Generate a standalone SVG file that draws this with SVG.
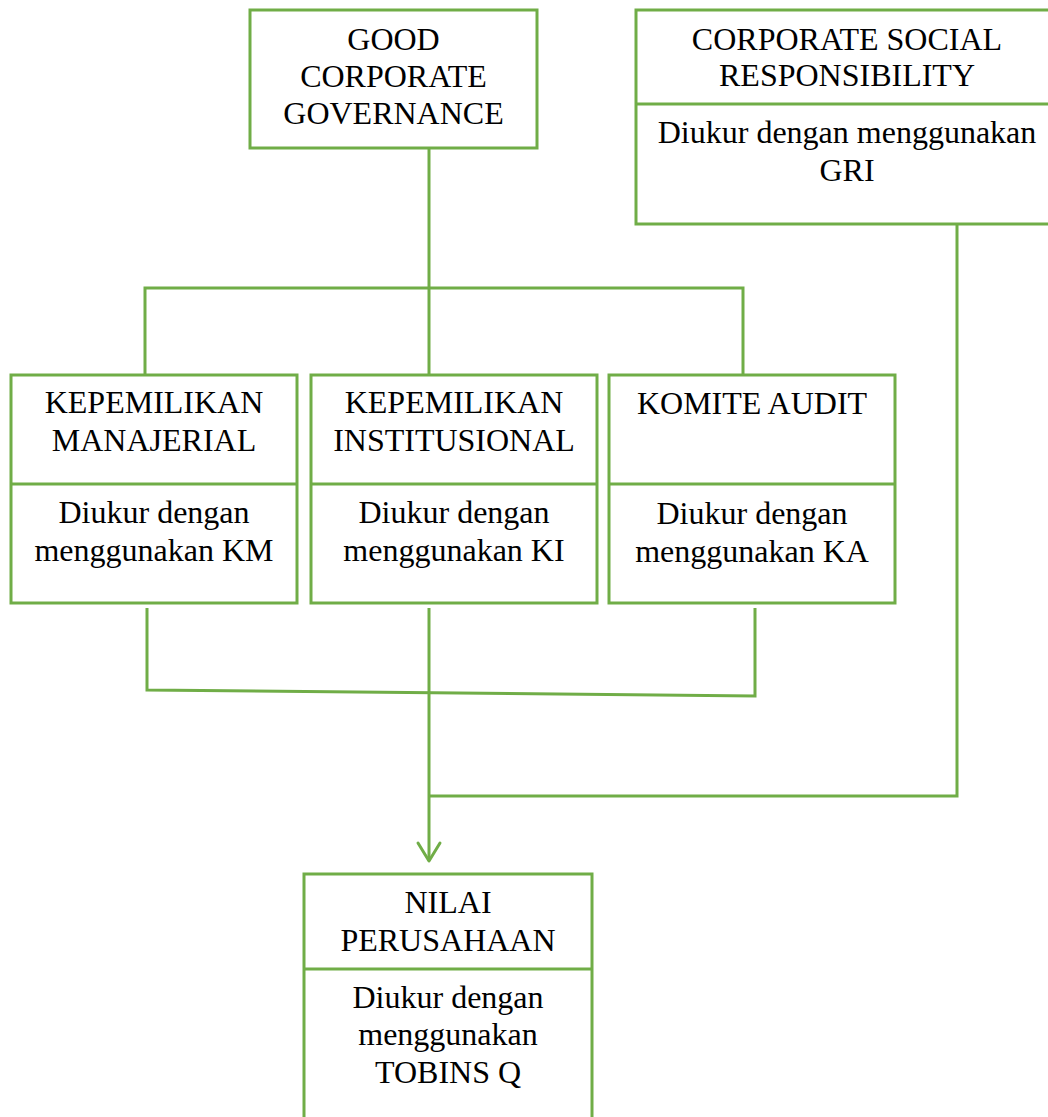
<svg xmlns="http://www.w3.org/2000/svg" width="1048" height="1117" viewBox="0 0 1048 1117">
<style>
.box{fill:#fff;stroke:#70AD47;stroke-width:3}
.ln{fill:none;stroke:#70AD47;stroke-width:3}
text{font-family:"Liberation Serif","Times New Roman",serif;font-size:32px;fill:#000;text-anchor:middle}
</style>
<rect width="1048" height="1117" fill="#fff"/>
<g id="connectors">
<polyline class="ln" points="429,148 429,375"/>
<polyline class="ln" points="145,375 145,288 743,288 743,375"/>
<polyline class="ln" points="147,608 147,690 755,696 755,608"/>
<polyline class="ln" points="429,608 429,861"/>
<polyline class="ln" points="957,224 957,796 429,796"/>
<polyline class="ln" points="418,843 429,861 440,843" stroke-linecap="round" stroke-linejoin="round" stroke-width="3.5"/>
</g>
<g id="gcg">
<rect class="box" x="250" y="10" width="287" height="138"/>
<text x="393.5" y="50">GOOD</text>
<text x="393.5" y="87">CORPORATE</text>
<text x="393.5" y="124">GOVERNANCE</text>
</g>
<g id="csr">
<rect class="box" x="636" y="10" width="430" height="214"/>
<line class="ln" x1="636" y1="104" x2="1066" y2="104"/>
<text x="847" y="50">CORPORATE SOCIAL</text>
<text x="847" y="86">RESPONSIBILITY</text>
<text x="847" y="143">Diukur dengan menggunakan</text>
<text x="847" y="181">GRI</text>
</g>
<g id="km">
<rect class="box" x="11" y="375" width="286" height="228"/>
<line class="ln" x1="11" y1="484" x2="297" y2="484"/>
<text x="154" y="413">KEPEMILIKAN</text>
<text x="154" y="451">MANAJERIAL</text>
<text x="154" y="523">Diukur dengan</text>
<text x="154" y="561">menggunakan KM</text>
</g>
<g id="ki">
<rect class="box" x="311" y="375" width="286" height="228"/>
<line class="ln" x1="311" y1="484" x2="597" y2="484"/>
<text x="454" y="413">KEPEMILIKAN</text>
<text x="454" y="451">INSTITUSIONAL</text>
<text x="454" y="523">Diukur dengan</text>
<text x="454" y="561">menggunakan KI</text>
</g>
<g id="ka">
<rect class="box" x="609" y="375" width="286" height="228"/>
<line class="ln" x1="609" y1="484" x2="895" y2="484"/>
<text x="752" y="414">KOMITE AUDIT</text>
<text x="752" y="524">Diukur dengan</text>
<text x="752" y="562">menggunakan KA</text>
</g>
<g id="np">
<rect class="box" x="304" y="874" width="288" height="260"/>
<line class="ln" x1="304" y1="969" x2="592" y2="969"/>
<text x="448" y="913">NILAI</text>
<text x="448" y="951">PERUSAHAAN</text>
<text x="448" y="1008">Diukur dengan</text>
<text x="448" y="1045">menggunakan</text>
<text x="448" y="1083">TOBINS Q</text>
</g>
</svg>
